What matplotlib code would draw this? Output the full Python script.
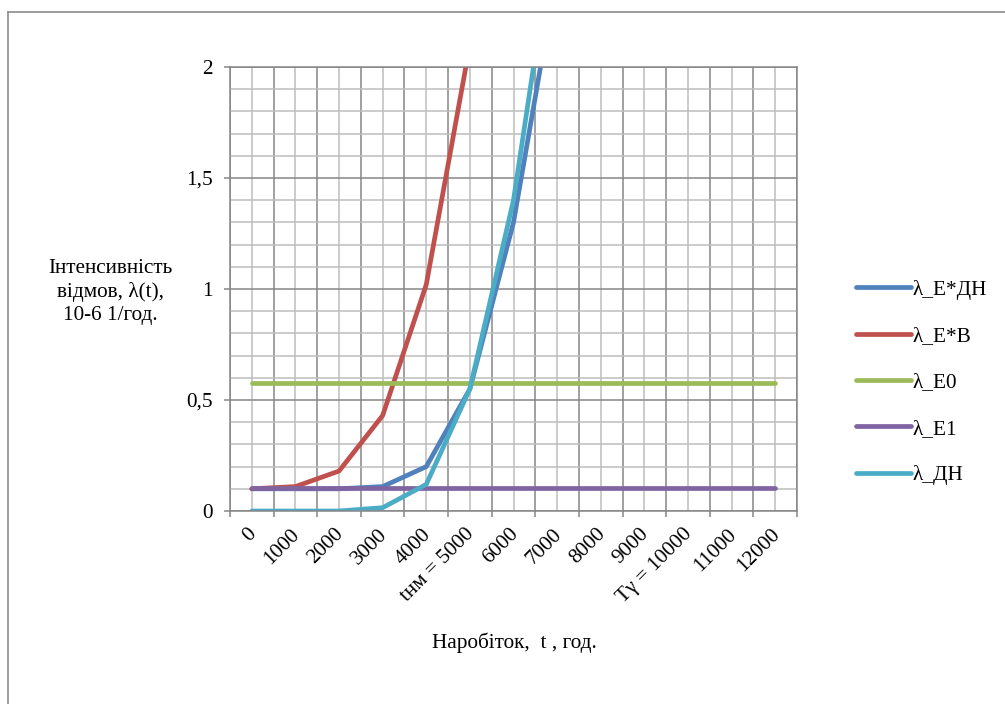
import numpy as np
import matplotlib.pyplot as plt
import matplotlib.transforms as mtransforms
from matplotlib.lines import Line2D

plt.rcParams['font.family'] = ['Liberation Serif', 'DejaVu Serif']

# categories (hours of operation)
categories = ['0', '1000', '2000', '3000', '4000', 'tнм = 5000', '6000', '7000',
              '8000', '9000', 'Tγ = 10000', '11000', '12000']
nan = np.nan
lam_e_dn = [0.10, 0.10, 0.10, 0.11, 0.20, 0.55, 1.30, 2.43, nan, nan, nan, nan, nan]
lam_e_v = [0.10, 0.11, 0.18, 0.43, 1.02, 2.10, nan, nan, nan, nan, nan, nan, nan]
lam_e0 = [0.575] * 13
lam_e1 = [0.105] * 13
lam_dn = [0.0, 0.0, 0.0, 0.015, 0.12, 0.55, 1.40, 2.71, nan, nan, nan, nan, nan]

series = [
    ('λ_E*ДН', lam_e_dn, '#4F81BD'),
    ('λ_E*В', lam_e_v, '#C0504D'),
    ('λ_E0', lam_e0, '#9BBB59'),
    ('λ_E1', lam_e1, '#8064A2'),
    ('λ_ДН', lam_dn, '#4BACC6'),
]

FS = 15.3

fig = plt.figure(figsize=(10.05, 7.04), dpi=100)
ax = fig.add_axes([230 / 1005, 1 - 511 / 704, 567 / 1005, 444 / 704])

x = np.arange(len(categories))
for name, vals, col in series:
    ax.plot(x, vals, color=col, lw=3.4, label=name, solid_capstyle='round',
            solid_joinstyle='round')

ax.set_xlim(-0.5, len(categories) - 0.5)
ax.set_ylim(0, 2)

# x: boundaries as major ticks, category centres as minor (labelled)
ax.set_xticks(np.arange(-0.5, len(categories), 1))
ax.set_xticklabels([])
ax.set_xticks(x, minor=True)
ax.set_xticklabels(categories, minor=True, rotation=45, ha='right', va='top',
                   rotation_mode='anchor', fontsize=FS)
ax.tick_params(axis='x', which='major', length=4.5, width=1.1, color='#868686',
               direction='out')
ax.tick_params(axis='x', which='minor', length=0, pad=10)
shift = mtransforms.ScaledTranslation(-5 / 100, 0, fig.dpi_scale_trans)
for lbl in ax.get_xticklabels(minor=True):
    lbl.set_transform(lbl.get_transform() + shift)

yt = [0, 0.5, 1, 1.5, 2]
ax.set_yticks(yt)
ax.set_yticklabels(['0', '0,5', '1', '1,5', '2'], fontsize=FS)
ax.set_yticks(np.arange(0, 2.01, 0.1), minor=True)
ax.tick_params(axis='y', which='major', length=4.5, width=1.1, color='#868686',
               direction='out', pad=8)
ax.tick_params(axis='y', which='minor', length=0)

ax.grid(which='major', color='#868686', lw=1.1)
ax.grid(which='minor', color='#bdbdbd', lw=1.1)
ax.set_axisbelow(True)
for s in ax.spines.values():
    s.set_color('#868686')
    s.set_linewidth(1.1)

fig.text(110 / 1005, 1 - 292 / 704, 'Інтенсивність\nвідмов, λ(t),\n10-6 1/год.',
         ha='center', va='center', multialignment='center', fontsize=FS,
         linespacing=1.25)
fig.text(514 / 1005, 1 - 643 / 704, 'Наробіток,  t , год.', ha='center',
         va='center', fontsize=FS)

leg = fig.legend(loc='upper left', bbox_to_anchor=(847 / 1005, 1 - 271 / 704),
                 frameon=False, fontsize=FS, handlelength=2.6,
                 handletextpad=0.1, labelspacing=1.25, borderaxespad=0)

# chart area border
fig.add_artist(Line2D([8 / 1005, 1.0], [1 - 12 / 704, 1 - 12 / 704],
                      color='#8c8c8c', lw=1.2))
fig.add_artist(Line2D([8 / 1005, 8 / 1005], [0.0, 1 - 12 / 704],
                      color='#8c8c8c', lw=1.2))

fig.savefig('out.png', dpi=100)
